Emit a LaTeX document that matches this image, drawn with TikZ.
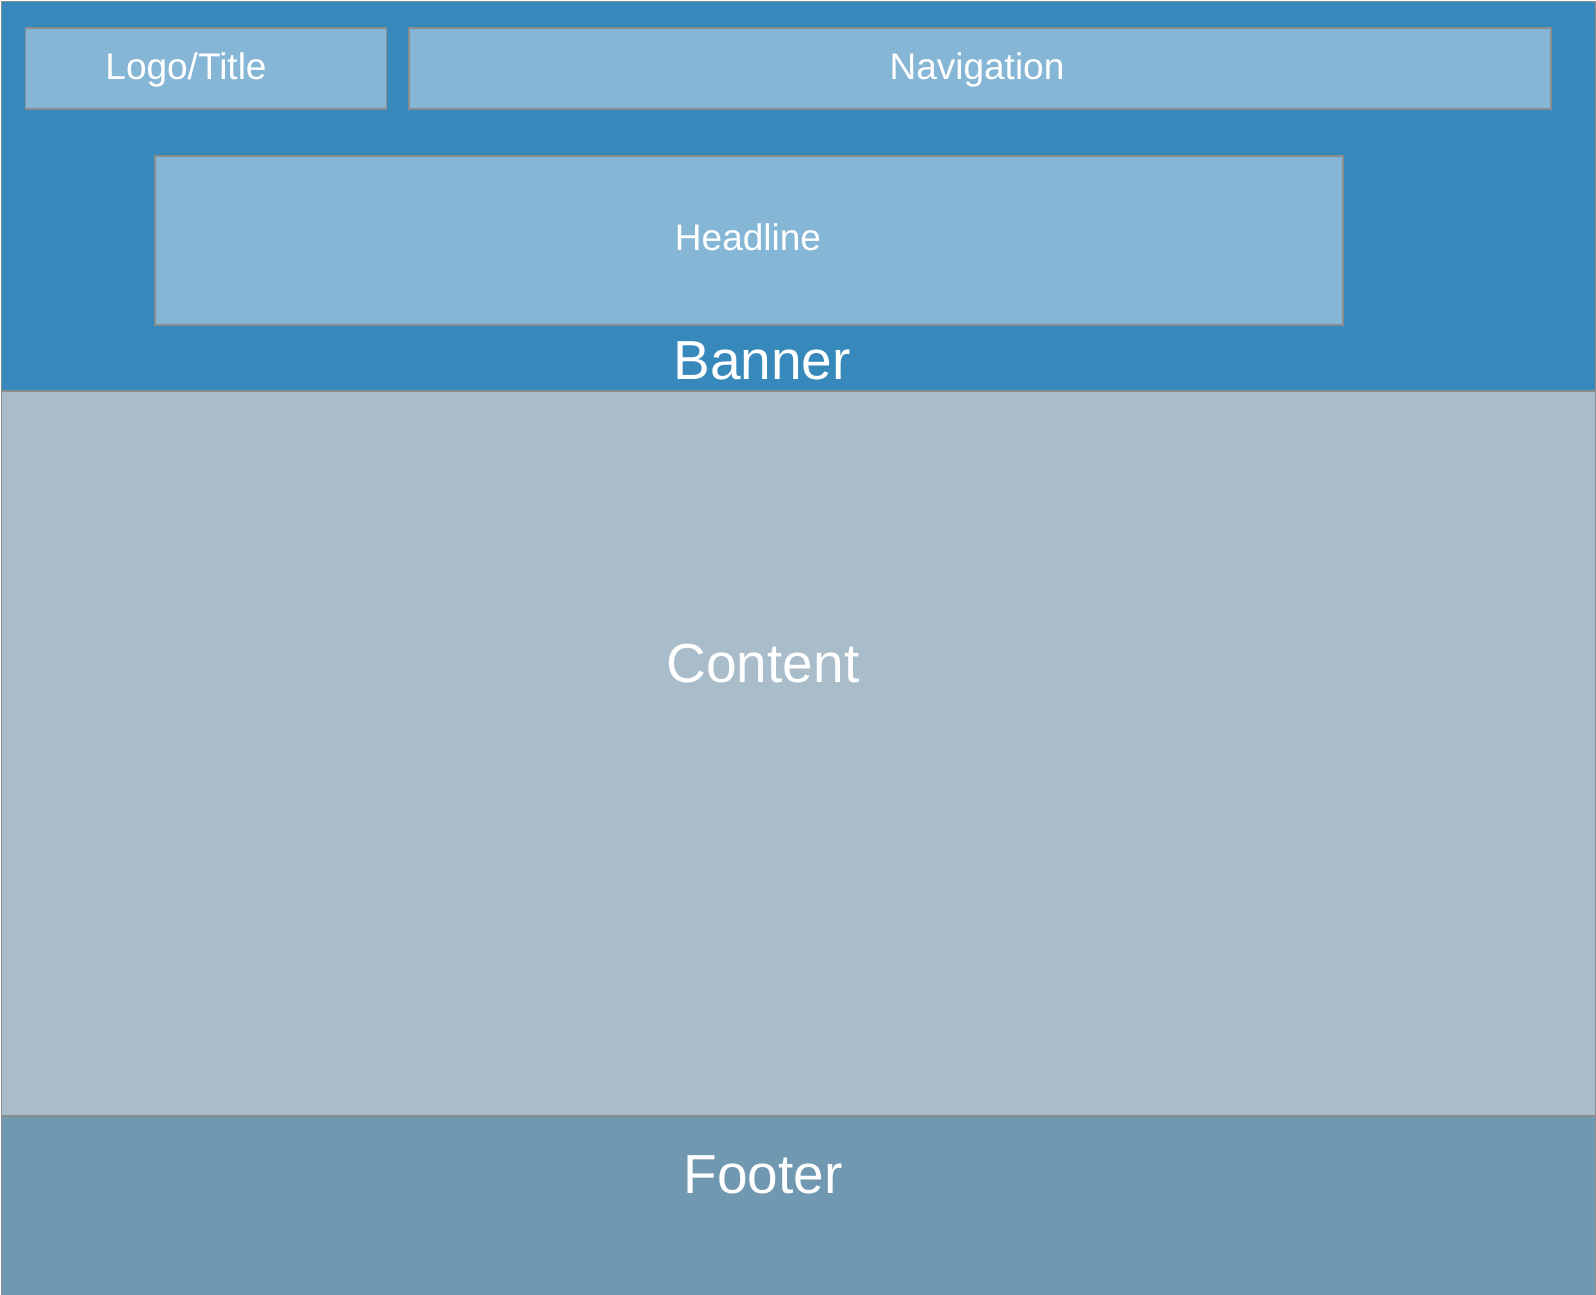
\documentclass[tikz,border=0pt]{standalone}
\usepackage{fontspec}
\setmainfont{Liberation Sans}
\definecolor{bannerblue}{RGB}{54,137,186}
\definecolor{boxblue}{RGB}{134,182,213}
\definecolor{contentgray}{RGB}{169,188,202}
\definecolor{footerblue}{RGB}{112,152,177}
\definecolor{edgegray}{RGB}{140,140,140}
\tikzset{
  region/.style={draw=edgegray, line width=1.2pt, inner sep=0pt, anchor=north west},
  subbox/.style={region, fill=boxblue, line width=1.5pt},
  smalltext/.style={text=white, font=\fontsize{37}{40}\selectfont, inner sep=0pt, anchor=base},
  bigtext/.style={text=white, font=\fontsize{55}{60}\selectfont, inner sep=0pt, anchor=base}
}

\begin{document}
\begin{tikzpicture}[x=1pt,y=-1pt]
  \useasboundingbox (0,0) rectangle (1596,1294);
  % page regions
  \node[region, fill=bannerblue, minimum width=1594pt, minimum height=389pt] (banner) at (0.6,0.6) {};
  \node[region, fill=contentgray, minimum width=1594pt, minimum height=725pt] (content) at (0.6,389.6) {};
  \node[region, fill=footerblue, minimum width=1594pt, minimum height=185pt] (footer) at (0.6,1114.6) {};
  \draw[edgegray, line width=2.5pt] (banner.south west) -- (banner.south east);
  \draw[edgegray, line width=2.5pt] (content.south west) -- (content.south east);
  % banner parts
  \node[subbox, minimum width=361pt, minimum height=81pt] (logo) at (24.5,27) {};
  \node[subbox, minimum width=1142pt, minimum height=81pt] (nav) at (408,27) {};
  \node[subbox, minimum width=1188pt, minimum height=169pt] (headline) at (154,155) {};
  % labels
  \node[smalltext] (logotext) at (186,79) {Logo/Title};
  \node[smalltext] (navtext) at (977,79) {Navigation};
  \node[smalltext] (headtext) at (748,250) {Headline};
  \node[bigtext] (bannertext) at (762,379.5) {Banner};
  \node[bigtext] (contenttext) at (763,682) {Content};
  \node[bigtext] (footertext) at (763,1193) {Footer};
\end{tikzpicture}
\end{document}
